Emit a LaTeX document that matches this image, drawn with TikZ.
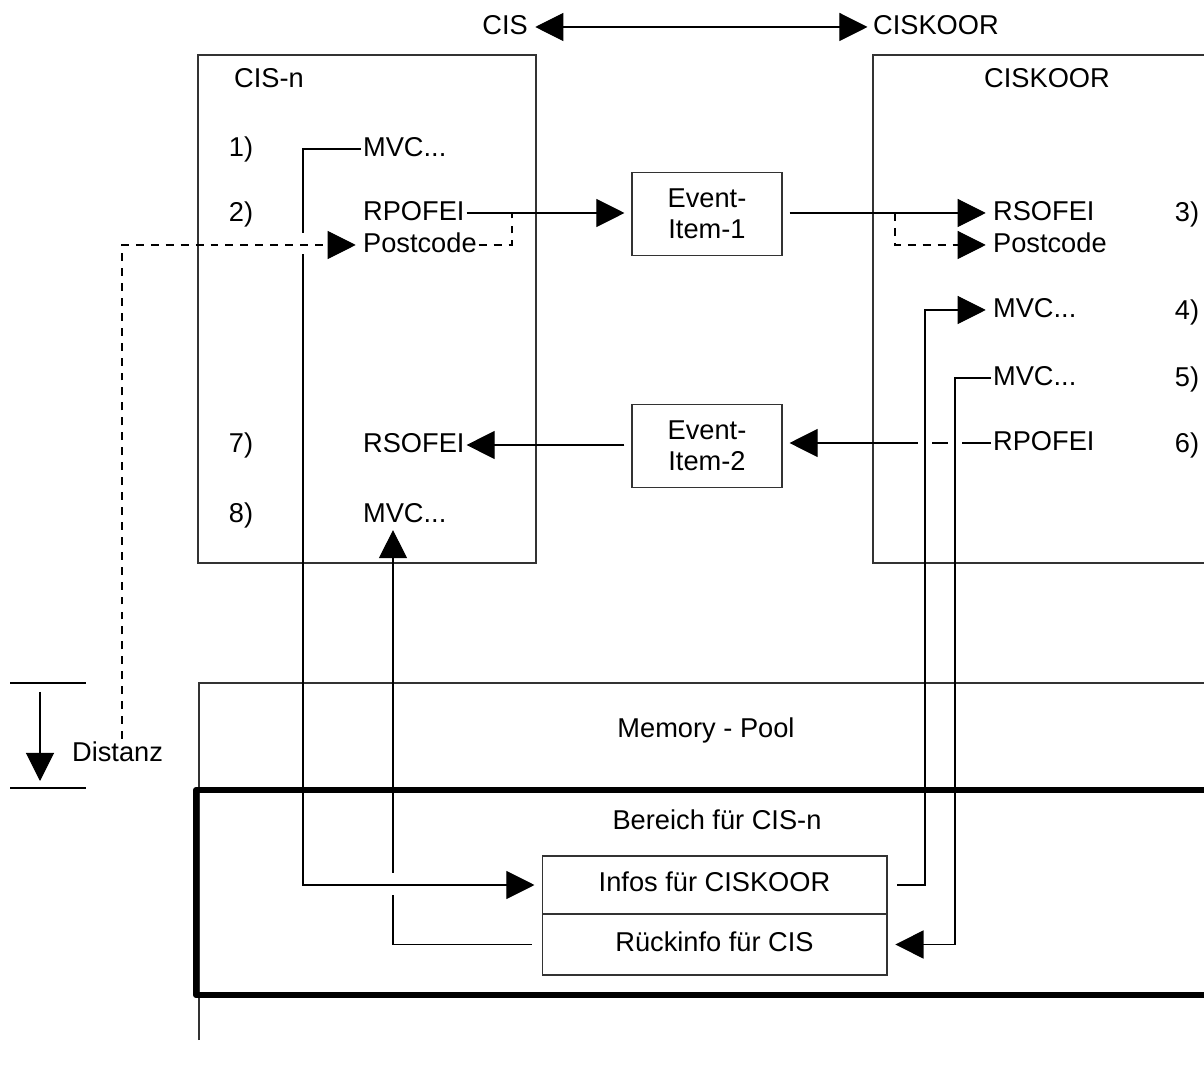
\documentclass[tikz,border=0pt]{standalone}
\usepackage{fontspec}
\setmainfont{Liberation Sans}
\usetikzlibrary{calc,positioning,arrows.meta}

\tikzset{
  >={Triangle[length=16pt,width=16pt]},
  lbl/.style={inner sep=1pt, text height=11.5pt, text depth=3.3pt, anchor=west},
  wire/.style={line width=0.6pt},
  dashline/.style={dash pattern=on 4.5pt off 4pt},
  frame/.style={draw=black!80, line width=0.6pt},
  thickframe/.style={draw=black, line width=3.4pt, line join=round},
  itembox/.style={draw=black!80, line width=0.6pt, minimum width=3cm, minimum height=1.66cm, align=center, inner sep=0pt},
  slot/.style={draw=black!80, line width=0.6pt, minimum width=6.9cm, inner sep=0pt, text depth=3.3pt},
  gap/.style={fill=white, draw=none}
}

\begin{document}
\begin{tikzpicture}[x=0.02cm, y=-0.02cm, font=\fontsize{15.5}{17.5}\selectfont]
  \useasboundingbox (0,0) rectangle (1204,1070);
  \clip (0,0) rectangle (1204,1070);

  % frames
  \draw[frame] (198,55) rectangle (536,563);
  \draw[frame] (873,55) rectangle (1222,563);
  \draw[frame] (199,1040) |- (1230,683);
  \draw[thickframe] (196,790) rectangle (1240,995);

  % titles
  \node[lbl, anchor=east] (cisTop) at (530,27) {CIS};
  \node[lbl] (koorTop) at (871,27) {CISKOOR};
  \node[lbl] (cisnTitle) at (232,80) {CIS-n};
  \node[lbl, anchor=center] (koorTitle) at (1047,80) {CISKOOR};

  % step numbers
  \foreach \n/\y in {1/149, 2/214, 7/445, 8/515}
    \node[lbl, anchor=center] (numL\n) at (241,\y) {\n)};
  \foreach \n/\y in {3/214, 4/312, 5/379, 6/445}
    \node[lbl, anchor=center] (numR\n) at (1187,\y) {\n)};

  % entries CIS-n
  \node[lbl] (mvcOne) at (361,149) {MVC...};
  \node[lbl] (rpoOut) at (361,213) {RPOFEI};
  \node[lbl] (postIn) at (361,245) {Postcode};
  \node[lbl] (rsoIn) at (361,445) {RSOFEI};
  \node[lbl] (mvcBack) at (361,515) {MVC...};

  % entries CISKOOR
  \node[lbl] (rsoOut) at (991,213) {RSOFEI};
  \node[lbl] (postOut) at (991,245) {Postcode};
  \node[lbl] (mvcFour) at (991,310) {MVC...};
  \node[lbl] (mvcFive) at (991,378) {MVC...};
  \node[lbl] (rpoSix) at (991,443) {RPOFEI};

  % event items, memory slots
  \node[itembox] (evOne) at (707,214) {Event-\\Item-1};
  \node[itembox] (evTwo) at (707,446) {Event-\\Item-2};
  \node[slot, minimum height=1.16cm] (infos) at (714.5,885) {Infos für CISKOOR};
  \node[slot, minimum height=1.22cm] (rueck) at (714.5,944.5) {Rückinfo für CIS};

  \node (pool) at (706,730) {Memory - Pool};
  \node (area) at (717,820) {Bereich für CIS-n};
  \node[lbl] (distanz) at (70,754) {Distanz};

  % rails
  \coordinate (railOne) at (303,0);
  \coordinate (railBack) at (393,0);
  \coordinate (railFour) at (925,0);
  \coordinate (railFive) at (955,0);
  \coordinate (railDist) at (122,0);
  \coordinate (splitL) at (512,0);
  \coordinate (splitR) at (895,0);

  \draw[wire, <->, shorten <=3pt, shorten >=2pt] (cisTop.east) -- (koorTop.west);

  \draw[wire, ->, shorten <=5.5pt] (rueck.west) -| (railBack |- mvcBack.south);
  \fill[gap] (387,873) rectangle (399,895);
  \draw[wire, ->, shorten >=4pt] (mvcOne.west) -| (railOne |- infos) -- (infos.west);
  \fill[gap] (297,233) rectangle (309,254);
  \draw[wire, dashline, ->, shorten >=3pt] (distanz.north -| railDist) |- (postIn.west);

  \draw[wire, ->, shorten >=4pt] (rpoOut.east) -- (rpoOut.east -| evOne.west);
  \draw[wire, dashline] (postIn.east) -| (splitL |- rpoOut.east);
  \draw[wire, ->, shorten <=4pt, shorten >=3pt] (evOne.east |- rsoOut.west) -- (rsoOut.west);
  \draw[wire, dashline, ->, shorten >=3pt] (splitR |- rsoOut.west) |- (postOut.west);

  \draw[wire, ->, shorten >=4pt] (rpoSix.west) -- (rpoSix.west -| evTwo.east);
  \fill[gap] (918,439) rectangle (932,447);
  \fill[gap] (948,439) rectangle (962,447);
  \draw[wire, ->, shorten <=4pt] (evTwo.west |- rsoIn.east) -- (rsoIn.east);

  \draw[wire, ->, shorten <=5.5pt, shorten >=3pt] (infos.east) -| (railFour |- mvcFour.west) -- (mvcFour.west);
  \draw[wire, ->, shorten >=4.5pt] (mvcFive.west) -| (railFive |- rueck.east) -- (rueck.east);

  % Distanz marker
  \foreach \y in {683,788}
    \draw[wire] (10,\y) -- (86,\y);
  \draw[wire, ->] (40,692) -- (40,781);
\end{tikzpicture}
\end{document}
